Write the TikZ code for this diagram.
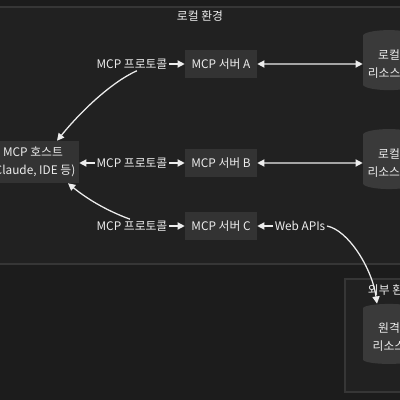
\documentclass[tikz,border=0pt]{standalone}
\usepackage{fontspec}
\setmainfont{Noto Sans CJK KR}
\usetikzlibrary{arrows.meta, positioning, shapes.geometric}
\definecolor{bgcol}{HTML}{1C1C1C}
\definecolor{envcol}{HTML}{212121}
\definecolor{envline}{HTML}{363636}
\definecolor{srvcol}{HTML}{333333}
\definecolor{rescol}{HTML}{3A3A3A}
\definecolor{inkcol}{HTML}{EDEDED}

\begin{document}
\begin{tikzpicture}[
  x=0.025cm, y=-0.025cm,
  >={Triangle[length=1.8mm, width=1.8mm]},
  font=\fontsize{8.4}{12.8}\selectfont,
  srv/.style    = {fill=srvcol, text=inkcol, minimum width=1.8cm,
                   minimum height=0.7cm, inner sep=2pt},   % MCP servers
  hostb/.style  = {fill=srvcol, text=inkcol, minimum width=2.3cm,
                   minimum height=1.05cm, inner sep=2pt, align=center},
  res/.style    = {cylinder, shape border rotate=90, aspect=0.25,
                   fill=rescol, text=inkcol, align=center,
                   minimum width=1.3cm, minimum height=1.5cm, inner sep=1pt},
  lbl/.style    = {fill=envcol, text=inkcol, inner sep=1pt},
  lnk/.style    = {draw=inkcol, line width=0.9pt},
  envbox/.style = {fill=envcol, draw=envline, line width=0.8pt},
  ttl/.style    = {text=inkcol},
]
\useasboundingbox (0,0) rectangle (400,400);
\clip (0,0) rectangle (400,400);
\fill[bgcol] (0,0) rectangle (400,400);

% ---------- environments ----------
\draw[envbox] (-20,7) rectangle (420,264);
\node[ttl] (localT) at (200,16) {로컬 환경};
\draw[envbox] (345,279) rectangle (440,392);
\node[ttl] (extT) at (391,290) {외부 환경};

% ---------- nodes ----------
\node[hostb] (host) at (33,162) {MCP 호스트\\(Claude, IDE 등)};
\node[srv]   (srvA) at (221,64)  {MCP 서버 A};
\node[srv]   (srvB) at (221,163) {MCP 서버 B};
\node[srv]   (srvC) at (221,226) {MCP 서버 C};
\node[res]   (resA) at (389,64)  {로컬\\리소스 A};
\node[res]   (resB) at (389,163) {로컬\\리소스 B};
\node[res]   (resR) at (389,337) {원격\\리소스};

\node[lbl] (lblA) at (132,64)  {MCP 프로토콜};
\node[lbl] (lblB) at (132,163) {MCP 프로토콜};
\node[lbl] (lblC) at (132,226) {MCP 프로토콜};
\node[lbl] (lblW) at (300,226) {Web APIs};

% ---------- connectors ----------
\draw[lnk,->] (lblA) -- (srvA);
\draw[lnk,->] ([xshift=0.12cm]lblA.south) .. controls (112,82) and (82,110)
              .. ([xshift=0.6cm]host.north);
\draw[lnk,->] (lblB) -- (host.east |- lblB);
\draw[lnk,->] (lblB) -- (srvB);
\draw[lnk,->] (lblC) -- (srvC);
\draw[lnk,->] ([xshift=-0.05cm]lblC.north) .. controls (105,210) and (86,198)
              .. ([xshift=0.875cm]host.south);
\draw[lnk,<->] (srvA) -- (resA);
\draw[lnk,<->] (srvB) -- (resB);
\draw[lnk,->] (lblW) -- (srvC);
\draw[lnk,->] (lblW.east) .. controls (348,230) and (372,268)
              .. ([xshift=-0.3cm]resR.north);

\end{tikzpicture}
\end{document}
